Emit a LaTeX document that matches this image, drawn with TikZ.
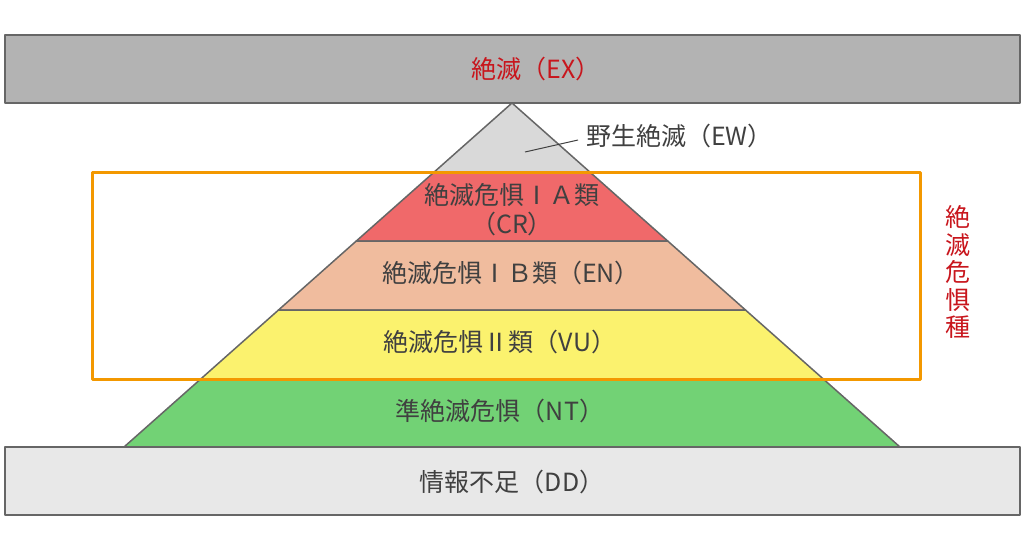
\documentclass[tikz,border=0pt]{standalone}
\usepackage{fontspec}
\setmainfont{Noto Sans CJK JP}
\usetikzlibrary{calc}
\definecolor{lineg}{HTML}{666666}
\definecolor{exgray}{HTML}{B3B3B3}
\definecolor{ewgray}{HTML}{D9D9D9}
\definecolor{crred}{HTML}{F0696A}
\definecolor{enpink}{HTML}{F0BC9E}
\definecolor{vuyel}{HTML}{FBF26E}
\definecolor{ntgreen}{HTML}{72D275}
\definecolor{ddgray}{HTML}{E8E8E8}
\definecolor{orng}{HTML}{F39800}
\definecolor{txt}{HTML}{404040}
\definecolor{redtxt}{HTML}{C8161D}
\begin{document}
\begin{tikzpicture}[x=1pt,y=-1pt,line join=round]
\useasboundingbox (0,0) rectangle (1024,550);
\tikzset{
  layer/.style={draw=lineg,line width=1.5pt},
  lbl/.style={text=txt,font=\fontsize{25}{29}\selectfont,inner sep=0pt,align=center},
}
% top bar
\draw[layer,fill=exgray] (5,35) rectangle (1020,103);
% pyramid layers
\draw[layer,fill=ewgray] (512,103) -- (589.8,172) -- (434.2,172) -- cycle;
\draw[layer,fill=crred] (434.2,172) -- (589.8,172) -- (667.7,241) -- (356.3,241) -- cycle;
\draw[layer,fill=enpink] (356.3,241) -- (667.7,241) -- (745.5,310) -- (278.5,310) -- cycle;
\draw[layer,fill=vuyel] (278.5,310) -- (745.5,310) -- (823.3,379) -- (200.7,379) -- cycle;
\draw[layer,fill=ntgreen] (200.7,379) -- (823.3,379) -- (900,447) -- (124,447) -- cycle;
% bottom bar
\draw[layer,fill=ddgray] (5,447) rectangle (1020,515);
% orange frame
\draw[orng,line width=3pt] (92,172) rectangle (920,379);
% labels
\node[lbl,text=redtxt] (ex) at (536,69) {絶滅（EX）};
\node[lbl,anchor=west] (ew) at (586,136) {野生絶滅（EW）};
\coordinate (ewpt) at (525,152);
\draw[txt,line width=1pt] (ewpt) -- ($(ew.west)+(-8,4)$);
\node[lbl] (cr) at (512,209.5) {絶滅危惧ⅠＡ類\\（CR）};
\node[lbl] (en) at (511,273) {絶滅危惧ⅠＢ類（EN）};
\node[lbl] (vu) at (500,342) {絶滅危惧Ⅱ類（VU）};
\node[lbl] (nt) at (500,411) {準絶滅危惧（NT）};
\node[lbl] (dd) at (512,482) {情報不足（DD）};
\node[lbl,text=redtxt,font=\fontsize{25}{27.5}\selectfont] (side) at (958,272) {絶\\滅\\危\\惧\\種};
\end{tikzpicture}
\end{document}
